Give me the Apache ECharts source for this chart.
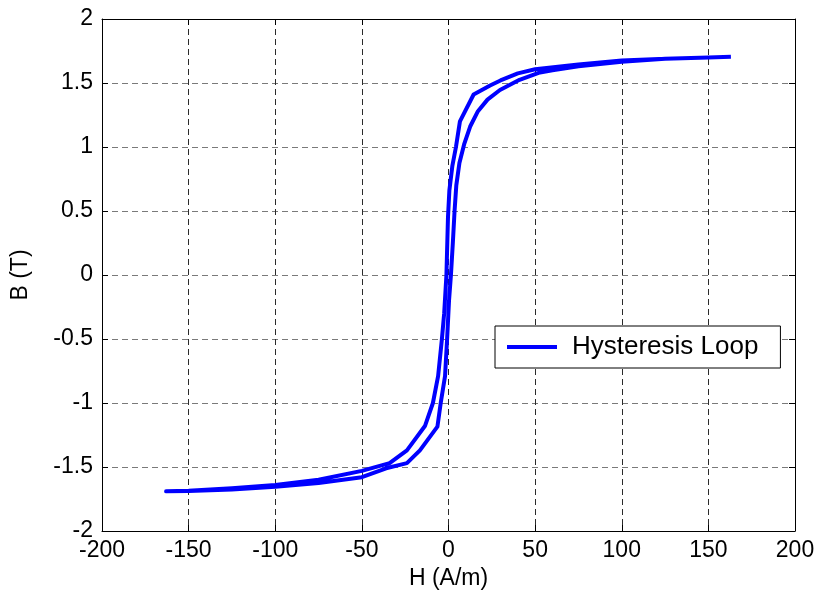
<!DOCTYPE html>
<html>
<head>
<meta charset="utf-8">
<script src="https://cdn.jsdelivr.net/npm/echarts@6/dist/echarts.min.js"></script>
<style>
  html, body { margin: 0; padding: 0; background: #fff; }
  #chart { width: 822px; height: 603px; }
</style>
</head>
<body>
<div id="chart"></div>
<script>
// Tick values for both axes
const hTicks = [-200, -150, -100, -50, 0, 50, 100, 150, 200];
const bTicks = [-2, -1.5, -1, -0.5, 0, 0.5, 1, 1.5, 2];

// Descending branch: from +Hmax down to -Hmax (A/m, T)
const descendingH = [163, 150, 125, 100, 75, 50, 40, 30, 24, 14.5, 6.6, 4.3, 2.2, 0.5, -0.3, -1.2, -2.5, -3.8, -6, -9, -13.6, -24, -34, -50, -75, -100, -125, -150, -163];
const descendingB = [1.705, 1.70, 1.69, 1.675, 1.645, 1.607, 1.575, 1.52, 1.48, 1.41, 1.2, 1.0, 0.85, 0.66, 0.45, 0.0, -0.3, -0.5, -0.79, -1.0, -1.18, -1.37, -1.47, -1.53, -1.6, -1.64, -1.665, -1.685, -1.69];

// Ascending branch: from -Hmax back up to +Hmax
const ascendingH = [-163, -150, -125, -100, -75, -50, -36, -24, -16.5, -6.4, -4.5, -2, -0.8, 0.3, 1.4, 2.5, 3.5, 4.5, 6.3, 9, 12.5, 17, 22.5, 29.7, 41, 52, 60, 75, 100, 125, 150, 163];
const ascendingB = [-1.69, -1.688, -1.675, -1.655, -1.625, -1.58, -1.51, -1.47, -1.37, -1.185, -1.0, -0.79, -0.5, -0.2, 0.0, 0.25, 0.5, 0.7, 0.875, 1.02, 1.16, 1.28, 1.37, 1.445, 1.525, 1.58, 1.60, 1.63, 1.665, 1.69, 1.70, 1.705];

const loopData = [];
descendingH.forEach((h, i) => loopData.push([h, descendingB[i]]));
ascendingH.forEach((h, i) => loopData.push([h, ascendingB[i]]));

const FONT = 'Liberation Sans, Arial, sans-serif';

const chart = echarts.init(document.getElementById('chart'), null, { renderer: 'canvas' });

const xBase = {
  type: 'value',
  min: hTicks[0],
  max: hTicks[hTicks.length - 1],
  interval: 50,
  axisLine: { show: true, onZero: false, lineStyle: { color: '#000', width: 1 } },
  axisTick: { show: true, inside: true, length: 6, lineStyle: { color: '#000' } }
};
const yBase = {
  type: 'value',
  min: bTicks[0],
  max: bTicks[bTicks.length - 1],
  interval: 0.5,
  axisLine: { show: true, onZero: false, lineStyle: { color: '#000', width: 1 } },
  axisTick: { show: true, inside: true, length: 6, lineStyle: { color: '#000' } }
};

chart.setOption({
  animation: false,
  backgroundColor: '#fff',
  grid: { left: 102, top: 19, width: 693, height: 512, containLabel: false },
  xAxis: [
    Object.assign({}, xBase, {
      position: 'bottom',
      name: 'H (A/m)',
      nameLocation: 'middle',
      nameGap: 33,
      nameTextStyle: { fontFamily: FONT, fontSize: 23, color: '#000' },
      axisLabel: { show: true, margin: 8, fontFamily: FONT, fontSize: 23, color: '#000' },
      splitLine: { show: true, lineStyle: { color: '#2a2a2a', type: [6, 4], width: 1 } }
    }),
    Object.assign({}, xBase, {
      position: 'top',
      axisLabel: { show: false },
      splitLine: { show: false }
    })
  ],
  yAxis: [
    Object.assign({}, yBase, {
      position: 'left',
      name: 'B (T)',
      nameLocation: 'middle',
      nameGap: 70,
      nameRotate: 90,
      nameTextStyle: { fontFamily: FONT, fontSize: 23, color: '#000' },
      axisLabel: { show: true, margin: 9, fontFamily: FONT, fontSize: 23, color: '#000' },
      splitLine: { show: true, lineStyle: { color: '#7a7a7a', type: [6, 4], width: 1 } }
    }),
    Object.assign({}, yBase, {
      position: 'right',
      axisLabel: { show: false },
      splitLine: { show: false }
    })
  ],
  legend: {
    show: true,
    left: 495,
    top: 326,
    orient: 'vertical',
    backgroundColor: '#fff',
    borderColor: '#000',
    borderWidth: 1,
    padding: [8, 22, 8, 12],
    itemWidth: 50,
    itemHeight: 4,
    itemGap: 0,
    textStyle: { fontFamily: FONT, fontSize: 26, color: '#000', padding: [0, 0, 0, 10] },
    data: [{ name: 'Hysteresis Loop', icon: 'rect' }]
  },
  series: [{
    name: 'Hysteresis Loop',
    type: 'line',
    xAxisIndex: 0,
    yAxisIndex: 0,
    data: loopData,
    showSymbol: false,
    symbol: 'none',
    smooth: false,
    clip: true,
    itemStyle: { color: '#0000ff' },
    lineStyle: { color: '#0000ff', width: 4, join: 'round', cap: 'butt' },
    z: 5
  }]
});
</script>
</body>
</html>
